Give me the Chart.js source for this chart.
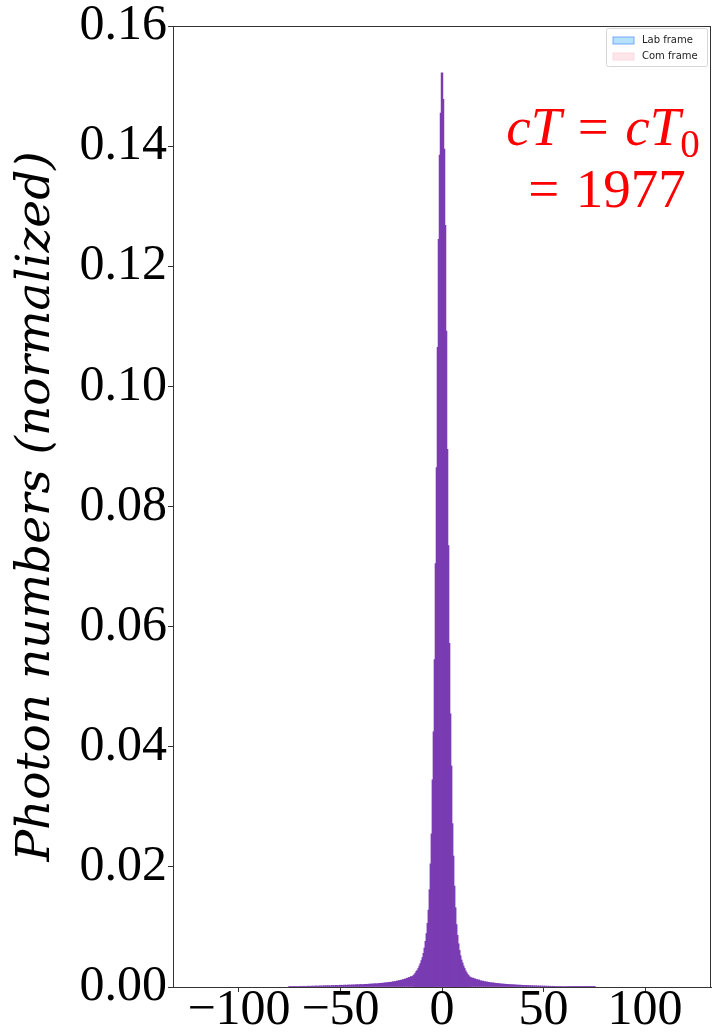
<!DOCTYPE html>
<html>
<head>
<meta charset="utf-8">
<script src="https://cdn.jsdelivr.net/npm/chart.js@4.4.1/dist/chart.umd.min.js"></script>
<style>
  html, body { margin: 0; padding: 0; background: #fff; }
  #wrap { width: 713px; height: 1033px; position: relative; }
</style>
</head>
<body>
<div id="wrap"><canvas id="c" width="713" height="1033"></canvas></div>
<script>
// ---- data ----
// core histogram bins (width 0.5), centres from -14 to 14
const coreStart = -14;
const coreBinWidth = 0.5;
const coreValues = [
  0.0019, 0.00205, 0.0023, 0.0026, 0.0028, 0.0031, 0.0035, 0.0039, 0.0044, 0.0049,
  0.0056, 0.0065, 0.0076, 0.0089, 0.0106, 0.0128, 0.0162, 0.0205, 0.0255, 0.0345,
  0.0425, 0.0545, 0.0705, 0.0865, 0.1065, 0.1245, 0.1385, 0.1455,
  0.1522,
  0.1478, 0.1395, 0.1268, 0.1092, 0.0895, 0.0735, 0.0572, 0.0455, 0.0368, 0.0272,
  0.0218, 0.0168, 0.0132, 0.0104, 0.0086, 0.0072, 0.0061, 0.0052, 0.0045, 0.0040,
  0.0035, 0.0031, 0.0027, 0.0024, 0.0021, 0.0019, 0.0017, 0.0016
];
// tail bins (width 1)
const tailLeftStart = -75;
const tailLeftValues = [
  0.00005, 0.00008, 0.00005, 0.0001, 0.00008, 0.00012, 0.0001, 0.00013, 0.0001, 0.00015,
  0.00012, 0.00016, 0.00014, 0.00018, 0.00015, 0.0002, 0.00017, 0.00022, 0.0002, 0.00023,
  0.0002, 0.00025, 0.00024, 0.00028, 0.00025, 0.0003, 0.00028, 0.00032, 0.0003, 0.00034,
  0.00033, 0.00036, 0.00035, 0.0004, 0.00038, 0.00042, 0.0004, 0.00045, 0.00044, 0.00048,
  0.0005, 0.00052, 0.00055, 0.00054, 0.0006, 0.00062, 0.00065, 0.0007, 0.00072, 0.00078,
  0.0008, 0.00088, 0.00092, 0.001, 0.00108, 0.00115, 0.00125, 0.00135, 0.00148, 0.0016,
  0.00175
];
const tailRightStart = 15;
const tailRightValues = [
  0.0015, 0.00138, 0.00125, 0.00118, 0.00105, 0.00098, 0.0009, 0.00085, 0.00078, 0.00072,
  0.0007, 0.00064, 0.0006, 0.00058, 0.00052, 0.0005, 0.00047, 0.00044, 0.00042, 0.0004,
  0.00038, 0.00036, 0.00033, 0.00032, 0.0003, 0.00028, 0.00027, 0.00026, 0.00024, 0.00022,
  0.00022, 0.0002, 0.00019, 0.00018, 0.00017, 0.00016, 0.00015, 0.00014, 0.00013, 0.00012,
  0.00012, 0.00011, 0.0001, 0.0001, 0.00009, 0.00008, 0.00008, 0.00007, 0.00006, 0.00006,
  0.00005, 0.00005, 0.00004, 0.00004, 0.00003, 0.00003, 0.00003, 0.00002, 0.00002, 0.00002,
  0.00001
];
const xTicks = [-100, -50, 0, 50, 100];
const yTicks = [0, 0.02, 0.04, 0.06, 0.08, 0.10, 0.12, 0.14, 0.16];
const xRange = [-132.5, 132.5];
const yRange = [0, 0.16];
const legendLabels = ['Lab frame', 'Com frame'];
const yTitle = 'Photon numbers (normalized)';

// ---- build point lists ----
function toPoints(start, step, values) {
  return values.map((v, i) => ({ x: start + i * step, y: v }));
}
const barColor = 'rgb(122,60,178)';

const serif = '"Liberation Serif", "DejaVu Serif", serif';
const titleSerif = '"DejaVu Serif", serif';

const frame = {
  id: 'frame',
  afterDatasetsDraw(chart) {
    const { ctx, chartArea: a } = chart;
    ctx.save();
    ctx.strokeStyle = '#333';
    ctx.lineWidth = 1;
    ctx.strokeRect(Math.round(a.left) + 0.5, Math.round(a.top) + 0.5,
      Math.round(a.right - a.left) - 1, Math.round(a.bottom - a.top));
    ctx.restore();
  }
};

const annot = {
  id: 'annot',
  afterDraw(chart) {
    const ctx = chart.ctx;
    ctx.save();
    ctx.fillStyle = '#ff0000';
    ctx.textBaseline = 'alphabetic';
    const fs = 55;
    const it = 'italic ' + fs + 'px ' + serif;
    const rm = fs + 'px ' + serif;
    const sub = Math.round(fs * 0.7) + 'px ' + serif;
    const sp = fs * 0.3;
    const segs1 = [
      [it, 'cT', 0], [null, sp], [rm, '=', 0], [null, sp], [it, 'cT', 0], [sub, '0', 12]
    ];
    const segs2 = [[rm, '=', 0], [null, sp], [rm, '1977', 0]];
    function drawLine(segs, cx, base) {
      let w = 0;
      segs.forEach(s => { if (s[0]) { ctx.font = s[0]; w += ctx.measureText(s[1]).width; } else w += s[1]; });
      let x = cx - w / 2;
      segs.forEach(s => {
        if (s[0]) { ctx.font = s[0]; ctx.fillText(s[1], x, base + s[2]); x += ctx.measureText(s[1]).width; }
        else x += s[1];
      });
    }
    drawLine(segs1, 603, 145);
    drawLine(segs2, 607, 207);
    ctx.restore();
  }
};

const innerLegend = {
  id: 'innerLegend',
  afterDraw(chart) {
    const ctx = chart.ctx;
    ctx.save();
    const x0 = 606.5, y0 = 28.5, w = 101, h = 38;
    ctx.fillStyle = 'rgba(255,255,255,0.85)';
    ctx.strokeStyle = '#d6d6d6';
    ctx.lineWidth = 1;
    ctx.beginPath();
    ctx.roundRect(x0, y0, w, h, 2);
    ctx.fill(); ctx.stroke();
    const fills = ['rgba(135,206,250,0.6)', 'rgba(255,200,210,0.45)'];
    const edges = ['rgba(90,150,255,0.8)', 'rgba(255,200,210,0.6)'];
    ctx.font = '10px "DejaVu Sans", sans-serif';
    ctx.textBaseline = 'middle';
    legendLabels.forEach((lab, i) => {
      const cy = 40.5 + i * 16;
      ctx.fillStyle = fills[i];
      ctx.fillRect(613, cy - 3.5, 21, 7);
      ctx.strokeStyle = edges[i];
      ctx.strokeRect(613, cy - 3.5, 21, 7);
      ctx.fillStyle = '#222';
      ctx.fillText(lab, 642, cy);
    });
    ctx.restore();
  }
};

Chart.defaults.color = '#000';

new Chart(document.getElementById('c'), {
  type: 'bar',
  data: {
    datasets: [
      { label: legendLabels[0], data: toPoints(coreStart, coreBinWidth, coreValues),
        backgroundColor: barColor, borderWidth: 0, barThickness: 1.8, grouped: false },
      { label: legendLabels[0] + ' tail L', data: toPoints(tailLeftStart, 1, tailLeftValues),
        backgroundColor: barColor, borderWidth: 0, barThickness: 2.3, grouped: false },
      { label: legendLabels[0] + ' tail R', data: toPoints(tailRightStart, 1, tailRightValues),
        backgroundColor: barColor, borderWidth: 0, barThickness: 2.3, grouped: false }
    ]
  },
  options: {
    responsive: false,
    animation: false,
    layout: { padding: { top: 25, right: 2, left: 0, bottom: 0 } },
    plugins: { legend: { display: false }, tooltip: { enabled: false } },
    scales: {
      x: {
        type: 'linear', min: xRange[0], max: xRange[1], offset: false,
        grid: { display: true, drawOnChartArea: false, offset: false, tickLength: 5, color: '#333' },
        border: { display: true, color: '#333', width: 1 },
        afterBuildTicks: s => { s.ticks = xTicks.map(v => ({ value: v })); },
        afterFit: s => { s.height = 46; },
        ticks: {
          autoSkip: false, maxRotation: 0, padding: -6,
          font: { family: serif, size: 50, lineHeight: 1 },
          callback: v => (v < 0 ? '\u2212' + Math.abs(v) : String(v))
        }
      },
      y: {
        min: yRange[0], max: yRange[1],
        grid: { display: true, drawOnChartArea: false, tickLength: 5, color: '#333' },
        border: { display: true, color: '#333', width: 1 },
        afterBuildTicks: s => { s.ticks = yTicks.map(v => ({ value: v })); },
        afterFit: s => { s.width = 173; },
        title: {
          display: true, text: yTitle, padding: { top: 13, bottom: 0 },
          font: { family: titleSerif, size: 47, style: 'italic', lineHeight: 1 }
        },
        ticks: {
          padding: 1,
          font: { family: serif, size: 50, lineHeight: 1 },
          callback: v => Number(v).toFixed(2)
        }
      }
    }
  },
  plugins: [frame, annot, innerLegend]
});
</script>
</body>
</html>
